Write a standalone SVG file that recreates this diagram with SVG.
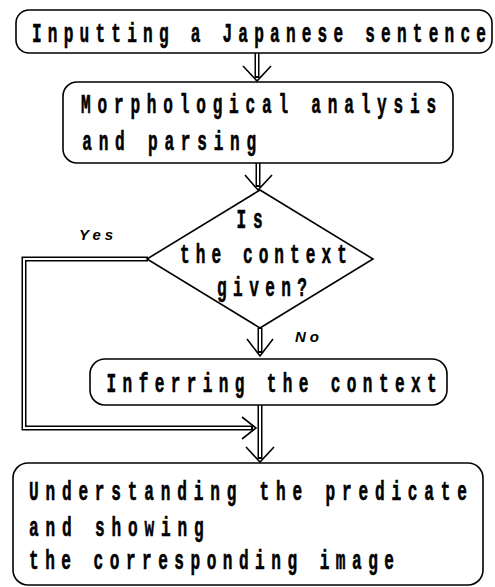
<svg xmlns="http://www.w3.org/2000/svg" width="495" height="587" viewBox="0 0 495 587">
<style>
.box{fill:#fff;stroke:#000;stroke-width:1.6}
.t{font-family:"Liberation Mono","DejaVu Sans Mono",monospace;font-weight:bold;font-size:28px;fill:#000;stroke:#000;stroke-width:0.6}
.lbl{font-family:"Liberation Sans",Arial,sans-serif;font-weight:bold;font-style:italic;font-size:15px;letter-spacing:4px;fill:#000}
.out{fill:none;stroke:#000;stroke-width:5}
.in{fill:none;stroke:#fff;stroke-width:2}
.head{fill:none;stroke:#000;stroke-width:1.6}
</style>
<rect width="495" height="587" fill="#fff"/>
<g id="connectors">
<path class="out" d="M257,53 V78"/><path class="in" d="M257,53 V76"/>
<path class="head" d="M243,66 L257,81 L271,66"/>
<path class="out" d="M258,163 V187"/><path class="in" d="M258,163 V185"/>
<path class="head" d="M245,175 L258,190 L272,175"/>
<path class="out" d="M260,328 V353"/><path class="in" d="M260,329 V351"/>
<path class="head" d="M247,339 L260,356 L273,339"/>
<path class="out" d="M260,405 V459"/><path class="in" d="M260,405 V457"/>
<path class="head" d="M246,447 L260,462 L274,447"/>
<path class="out" d="M148,259 H24 V428 H253"/><path class="in" d="M148,259 H24 V428 H251"/>
<path class="head" d="M242,417 L256,428 L242,439"/>
</g>
<g id="n1">
<rect class="box" x="16" y="10" width="476" height="43" rx="13"/>
<text class="t" transform="scale(0.575,1)" x="55.6" y="42" textLength="789.6" lengthAdjust="spacing">Inputting a Japanese sentence</text>
</g>
<g id="n2">
<rect class="box" x="63" y="82" width="390" height="81" rx="14"/>
<text class="t" transform="scale(0.575,1)" x="141" y="113" textLength="617.4" lengthAdjust="spacing">Morphological analysis</text>
<text class="t" transform="scale(0.575,1)" x="143" y="150" textLength="302.6" lengthAdjust="spacing">and parsing</text>
</g>
<g id="n3">
<path class="box" d="M260,190 L373,259 L260,328 L147,259 Z"/>
<text class="t" transform="scale(0.575,1)" x="411.5" y="228" textLength="45.2" lengthAdjust="spacing">Is</text>
<text class="t" transform="scale(0.575,1)" x="313" y="263" textLength="290.4" lengthAdjust="spacing">the context</text>
<text class="t" transform="scale(0.575,1)" x="377.4" y="296" textLength="156.5" lengthAdjust="spacing">given?</text>
</g>
<g id="n4">
<rect class="box" x="90" y="359" width="357" height="46" rx="15"/>
<text class="t" transform="scale(0.575,1)" x="185.4" y="392" textLength="573.9" lengthAdjust="spacing">Inferring the context</text>
</g>
<g id="n5">
<rect class="box" x="13" y="463" width="470" height="122" rx="15"/>
<text class="t" transform="scale(0.575,1)" x="50.4" y="500" textLength="761.7" lengthAdjust="spacing">Understanding the predicate</text>
<text class="t" transform="scale(0.575,1)" x="50.4" y="536" textLength="303.7" lengthAdjust="spacing">and showing</text>
<text class="t" transform="scale(0.575,1)" x="50.4" y="569" textLength="634.8" lengthAdjust="spacing">the corresponding image</text>
</g>
<g id="labels">
<text class="lbl" x="79" y="240">Yes</text>
<text class="lbl" x="295" y="342">No</text>
</g>
</svg>
